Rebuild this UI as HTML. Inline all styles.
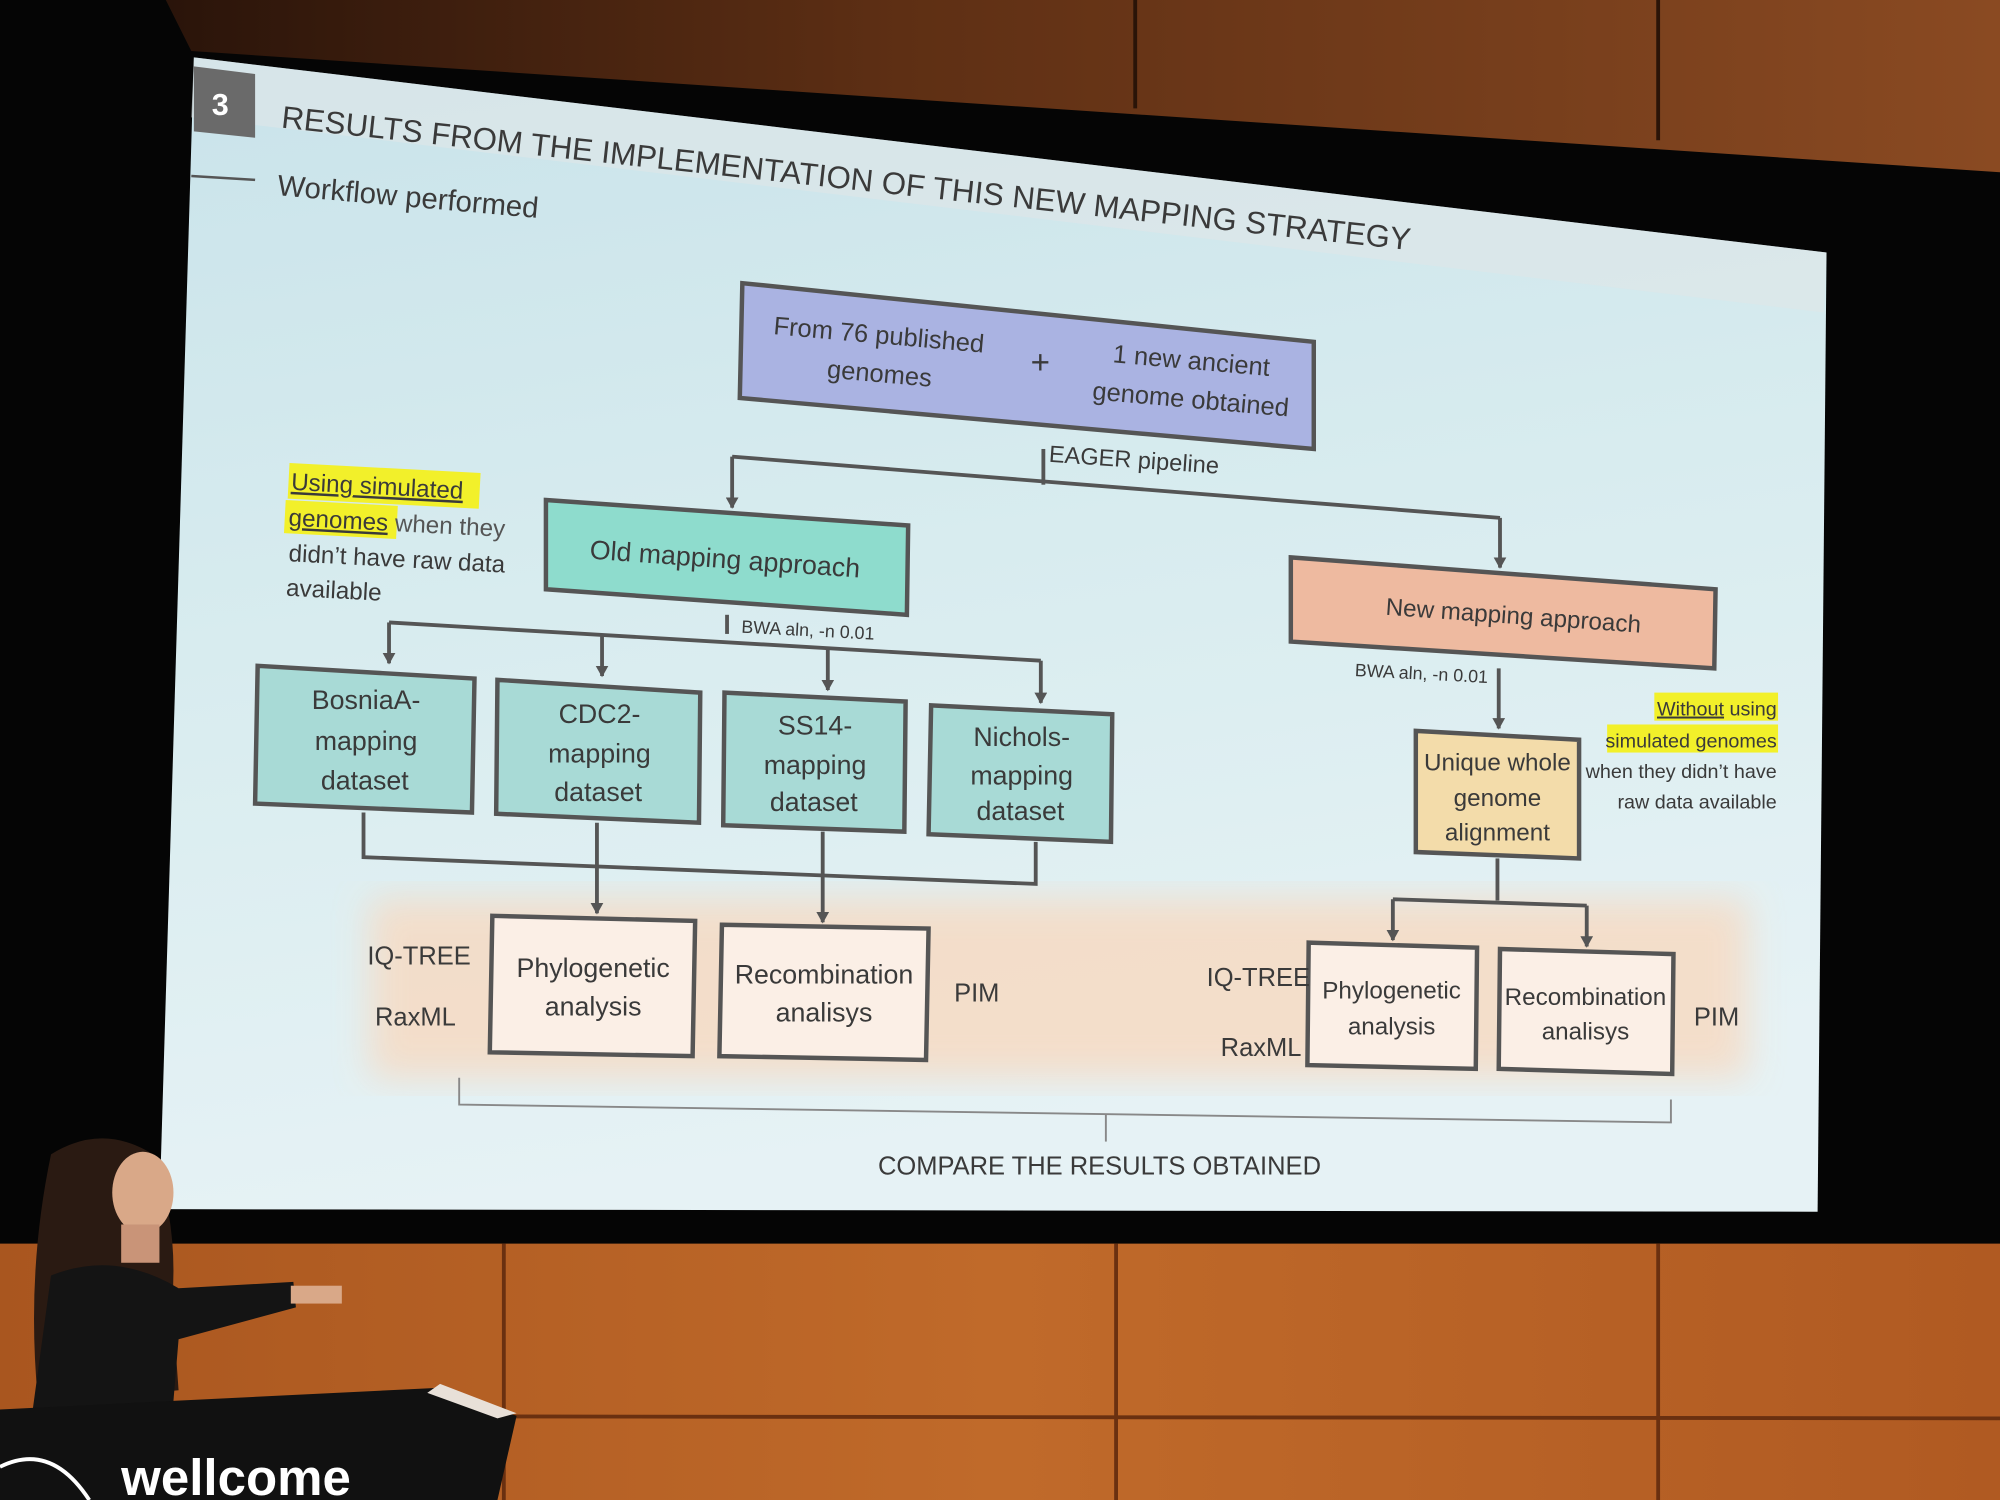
<!DOCTYPE html>
<html><head><meta charset="utf-8">
<style>
html,body{margin:0;padding:0;background:#000;}
svg{display:block;}
text{font-family:"Liberation Sans",sans-serif;fill:#3a3a3a;}
</style></head>
<body>
<svg width="2000" height="1500" viewBox="0 0 1568 1176" xmlns="http://www.w3.org/2000/svg" preserveAspectRatio="none">
<defs>
<linearGradient id="sl" x1="0" y1="0" x2="0.2" y2="1">
<stop offset="0" stop-color="#c9e3ea"/><stop offset="0.5" stop-color="#d8ecef"/><stop offset="1" stop-color="#e6f2f5"/>
</linearGradient>
<linearGradient id="wood" x1="0" y1="0" x2="1" y2="0">
<stop offset="0" stop-color="#a9561f"/><stop offset="0.5" stop-color="#c06a2a"/><stop offset="1" stop-color="#b05a22"/>
</linearGradient>
<linearGradient id="woodtop" x1="0" y1="0" x2="1" y2="0">
<stop offset="0" stop-color="#2a140a"/><stop offset="0.4" stop-color="#5e2f14"/><stop offset="1" stop-color="#8a4a22"/>
</linearGradient>
<filter id="blur"><feGaussianBlur stdDeviation="14"/></filter>
<marker id="ar" markerWidth="10" markerHeight="10" refX="5" refY="8" orient="0" markerUnits="userSpaceOnUse">
<path d="M0,0 L10,0 L5,9 Z" fill="#555"/>
</marker>
</defs>
<rect width="1568" height="1176" fill="#050505"/>
<polygon points="130,0 1568,0 1568,135 150,40" fill="url(#woodtop)"/>
<line x1="890" y1="0" x2="890" y2="85" stroke="#2a1408" stroke-width="3"/>
<line x1="1300" y1="0" x2="1300" y2="110" stroke="#2a1408" stroke-width="3"/>
<rect x="0" y="975" width="1568" height="201" fill="url(#wood)"/>
<line x1="0" y1="1110" x2="1568" y2="1112" stroke="#6a3010" stroke-width="3"/>
<line x1="395" y1="975" x2="395" y2="1176" stroke="#6a3010" stroke-width="3"/>
<line x1="875" y1="975" x2="875" y2="1176" stroke="#6a3010" stroke-width="3"/>
<line x1="1300" y1="975" x2="1300" y2="1176" stroke="#6a3010" stroke-width="3"/>
<polygon points="152,45 1432,198 1425,950 125,948" fill="url(#sl)"/>
<polygon points="152,45 1432,198 1430,245 150,92" fill="#dfe6e8" opacity="0.6"/>
<polygon points="152,52 200,58 200,108 152,103" fill="#6a6a6a"/>
<text x="166" y="90" font-size="24" style="fill:#fff" font-weight="bold">3</text>
<line x1="150" y1="138" x2="200" y2="141" stroke="#555" stroke-width="2"/>
<rect x="290" y="705" width="1080" height="140" fill="#f5dcc6" filter="url(#blur)" opacity="0.9"/>

<text transform="translate(220,100) rotate(6.2)" font-size="24.5" fill="#333">RESULTS FROM THE IMPLEMENTATION OF THIS NEW MAPPING STRATEGY</text>
<text transform="translate(217,153) rotate(5)" font-size="23" fill="#333">Workflow performed</text>

<g stroke="#555" stroke-width="3.5">
<polygon points="582,222 1030,268 1030,352 580,312" fill="#aab3e2"/>
<polygon points="428,392 712,412 711,482 428,462" fill="#8edccd"/>
<polygon points="1012,437 1345,462 1344,524 1012,503" fill="#eebaa0"/>
<polygon points="202,522 372,532 370,637 200,630" fill="#a8dad6"/>
<polygon points="390,533 549,543 548,645 389,638" fill="#a8dad6"/>
<polygon points="568,543 710,550 709,652 567,647" fill="#a8dad6"/>
<polygon points="730,553 872,560 871,660 728,654" fill="#a8dad6"/>
<polygon points="1110,573 1238,580 1238,673 1110,668" fill="#f3dcaa"/>
<polygon points="386,718 545,722 543,828 384,825" fill="#fbefe6"/>
<polygon points="566,725 728,728 726,831 564,828" fill="#fbefe6"/>
<polygon points="1026,739 1158,743 1157,838 1025,835" fill="#fbefe6"/>
<polygon points="1176,744 1312,748 1311,842 1175,838" fill="#fbefe6"/>
</g>
<g stroke="#555" stroke-width="3" fill="none">
<line x1="818" y1="352" x2="818" y2="380"/>
<line x1="574" y1="358" x2="1176" y2="406"/>
<line x1="574" y1="358" x2="574" y2="398" marker-end="url(#ar)"/>
<line x1="1176" y1="406" x2="1176" y2="445" marker-end="url(#ar)"/>
<line x1="570" y1="482" x2="570" y2="497"/>
<line x1="305" y1="488" x2="816" y2="518"/>
<line x1="305" y1="488" x2="305" y2="520" marker-end="url(#ar)"/>
<line x1="472" y1="498" x2="472" y2="530" marker-end="url(#ar)"/>
<line x1="649" y1="508" x2="649" y2="541" marker-end="url(#ar)"/>
<line x1="816" y1="518" x2="816" y2="551" marker-end="url(#ar)"/>
<line x1="1175" y1="524" x2="1175" y2="571" marker-end="url(#ar)"/>
<polyline points="285,637 285,672 812,693 812,660"/>
<line x1="468" y1="645" x2="468" y2="716" marker-end="url(#ar)"/>
<line x1="645" y1="652" x2="645" y2="723" marker-end="url(#ar)"/>
<line x1="1174" y1="673" x2="1174" y2="706"/>
<line x1="1092" y1="705" x2="1244" y2="710"/>
<line x1="1092" y1="705" x2="1092" y2="737" marker-end="url(#ar)"/>
<line x1="1244" y1="710" x2="1244" y2="742" marker-end="url(#ar)"/>
</g>
<g stroke="#888" stroke-width="1.5" fill="none">
<polyline points="360,845 360,866 1310,880 1310,862"/>
<line x1="867" y1="873" x2="867" y2="895"/>
</g>
<g font-size="20">
<text transform="translate(606,262) rotate(5)">From 76 published</text>
<text transform="translate(648,296) rotate(5)">genomes</text>
<text x="808" y="293" font-size="26">+</text>
<text transform="translate(872,284) rotate(5)">1 new ancient</text>
<text transform="translate(856,313) rotate(5)">genome obtained</text>
<text transform="translate(822,362) rotate(4)" font-size="18.5" fill="#222">EAGER pipeline</text>
<text transform="translate(462,438) rotate(4)" font-size="21" fill="#222">Old mapping approach</text>
<text transform="translate(1086,482) rotate(4)" font-size="19" fill="#222">New mapping approach</text>
<text transform="translate(581,496) rotate(3)" font-size="14" fill="#222">BWA aln, -n 0.01</text>
<text transform="translate(1062,530) rotate(3)" font-size="14" fill="#222">BWA aln, -n 0.01</text>
<g text-anchor="middle" font-size="21">
<text x="287" y="556">BosniaA-</text><text x="287" y="588">mapping</text><text x="286" y="619">dataset</text>
<text x="470" y="567">CDC2-</text><text x="470" y="598">mapping</text><text x="469" y="628">dataset</text>
<text x="639" y="576">SS14-</text><text x="639" y="607">mapping</text><text x="638" y="636">dataset</text>
<text x="801" y="585">Nichols-</text><text x="801" y="615">mapping</text><text x="800" y="643">dataset</text>
<text x="1174" y="604" font-size="19">Unique whole</text><text x="1174" y="632" font-size="19">genome</text><text x="1174" y="659" font-size="19">alignment</text>
<text x="465" y="766">Phylogenetic</text><text x="465" y="796">analysis</text>
<text x="646" y="771">Recombination</text><text x="646" y="801">analisys</text>
<text x="1091" y="783" font-size="19">Phylogenetic</text><text x="1091" y="811" font-size="19">analysis</text>
<text x="1243" y="788" font-size="19">Recombination</text><text x="1243" y="815" font-size="19">analisys</text>
<text x="862" y="921" font-size="20" fill="#222">COMPARE THE RESULTS OBTAINED</text>
</g>
<text x="288" y="756">IQ-TREE</text>
<text x="294" y="804">RaxML</text>
<text x="748" y="785">PIM</text>
<text x="946" y="773">IQ-TREE</text>
<text x="957" y="828">RaxML</text>
<text x="1328" y="804">PIM</text>
</g>
<rect x="227" y="363" width="150" height="28" fill="#f2f02a" transform="rotate(3 227 363)"/>
<rect x="224" y="392" width="88" height="26" fill="#f2f02a" transform="rotate(3 224 392)"/>
<g font-size="19">
<text transform="translate(228,384) rotate(3)" text-decoration="underline">Using simulated</text>
<text transform="translate(226,412) rotate(3)"><tspan text-decoration="underline">genomes</tspan><tspan fill="#555"> when they</tspan></text>
<text transform="translate(226,440) rotate(3)" fill="#555">didn’t have raw data</text>
<text transform="translate(224,467) rotate(3)" fill="#555">available</text>
</g>
<rect x="1297" y="543" width="97" height="22" fill="#f2f02a"/>
<rect x="1260" y="568" width="134" height="22" fill="#f2f02a"/>
<g font-size="15.5" text-anchor="end">
<text x="1393" y="561"><tspan text-decoration="underline">Without</tspan> using</text>
<text x="1393" y="586">simulated genomes</text>
<text x="1393" y="610" fill="#555">when they didn’t have</text>
<text x="1393" y="634" fill="#555">raw data available</text>
</g>
<path d="M40,905 Q80,880 120,905 Q140,960 135,1020 L140,1090 L30,1100 Q20,1000 40,905Z" fill="#2a1a12"/>
<ellipse cx="112" cy="935" rx="24" ry="32" fill="#d9a888"/>
<rect x="95" y="960" width="30" height="30" fill="#c99478"/>
<path d="M40,1000 Q90,980 140,1010 L230,1005 L232,1025 L140,1050 L135,1110 L25,1110 Z" fill="#141414"/>
<rect x="228" y="1008" width="40" height="14" fill="#d9a888"/>
<polygon points="0,1105 345,1088 405,1110 390,1176 0,1176" fill="#111"/>
<polygon points="345,1085 405,1108 390,1112 335,1092" fill="#e8e0d8"/>
<text x="95" y="1172" font-size="40" font-weight="bold" style="fill:#fff">wellcome</text>
<path d="M0,1150 Q40,1130 70,1176" stroke="#fff" stroke-width="3" fill="none"/>
</svg>
</body></html>
